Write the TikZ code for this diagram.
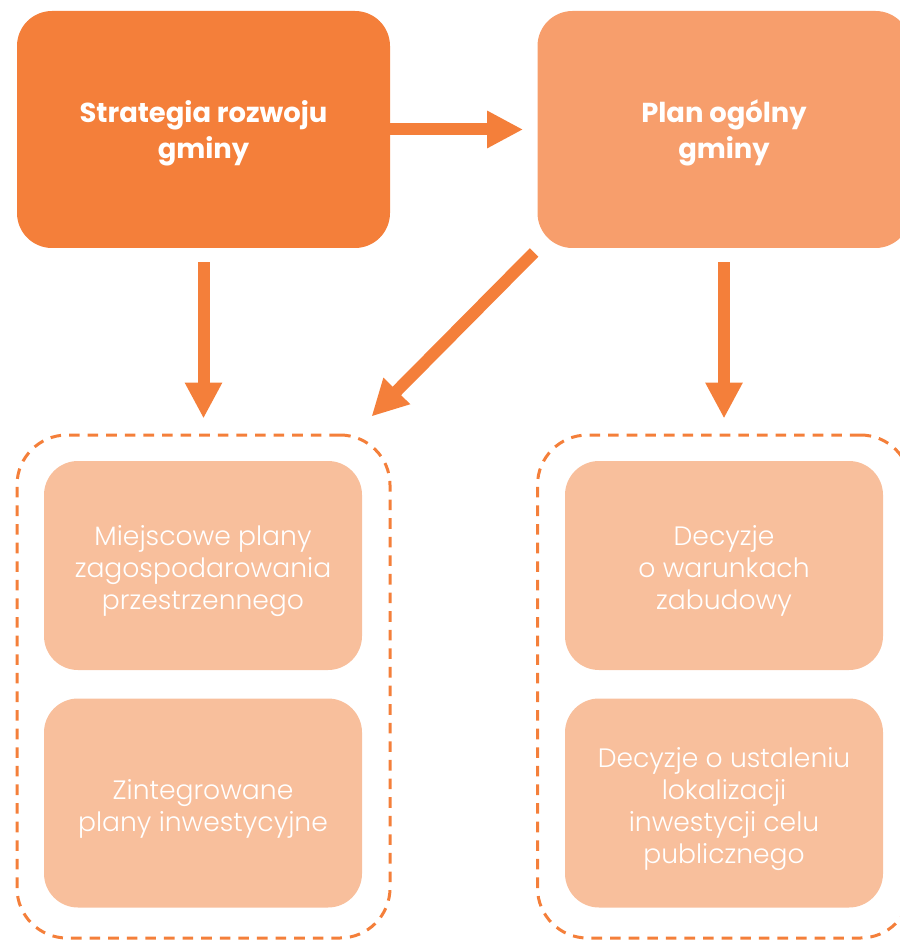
\documentclass[tikz,border=0pt]{standalone}
\usepackage{fontspec}
\setmainfont{Poppins}
\newfontfamily\poplight{Poppins Light}
\usetikzlibrary{arrows.meta,calc}
\definecolor{ciemny}{HTML}{F47F3A}
\definecolor{sredni}{HTML}{F79E6C}
\definecolor{jasny}{HTML}{F8BF9C}
% text lowered inside the box, box size unchanged
\newcommand{\nizej}[2]{\raisebox{-#1}[\height][\depth]{\begin{tabular}{@{}c@{}}#2\end{tabular}}}
\newcommand{\glowny}[4][]{\node[rectangle,rounded corners=17.5pt,minimum width=186.5pt,minimum height=118.5pt,text=white,font=\bfseries\fontsize{13.7}{18}\selectfont,#1] at (#2) (#3) {\nizej{2pt}{#4}}}
\newcommand{\dokument}[4][]{\node[rectangle,rounded corners=17pt,fill=jasny,minimum width=159pt,minimum height=104.5pt,text=white,font=\poplight\fontsize{13.3}{16}\selectfont,#1] at (#2) (#3) {\nizej{2.8pt}{#4}}}
\tikzset{
  strzalka/.style={draw=ciemny,line width=6pt,-{Triangle[length=18pt,width=17.5pt]}},
  grupa/.style={rectangle,draw=ciemny,line width=1.5pt,dash pattern=on 5.3pt off 4pt,rounded corners=25pt,minimum width=186.5pt,minimum height=251.5pt}
}

\begin{document}
\begin{tikzpicture}[x=0.5pt,y=-0.5pt]
	\useasboundingbox (0,0) rectangle (899,940);
	
	\node[grupa] at (203.5,686.5) (grupaL) {};
	\node[grupa] at (724,686.5) (grupaR) {};
	
	\glowny[fill=ciemny]{203.5,129.5}{strategia}{Strategia rozwoju\\gminy};
	\glowny[fill=sredni]{724,129.5}{plan}{Plan ogólny\\gminy};
	
	\dokument{203,565.5}{mpzp}{Miejscowe plany\\zagospodarowania\\przestrzennego};
	\dokument{203,803}{zpi}{Zintegrowane\\plany inwestycyjne};
	\dokument{724,565.5}{wz}{Decyzje\\o warunkach\\zabudowy};
	\dokument{724,803}{celpub}{Decyzje o ustaleniu\\lokalizacji\\inwestycji celu\\publicznego};
	
	\draw[strzalka,shorten >=7pt] (strategia) -- (plan);
	\draw[strzalka,shorten <=7pt,shorten >=7.5pt] (strategia) -- (grupaL);
	\draw[strzalka,shorten <=7pt,shorten >=7.5pt] (plan) -- (grupaR);
	\draw[strzalka] ($(plan.south west)+(-3,4)$) -- ($(grupaL.north east)+(-20,-17)$);
	
\end{tikzpicture}
\end{document}
